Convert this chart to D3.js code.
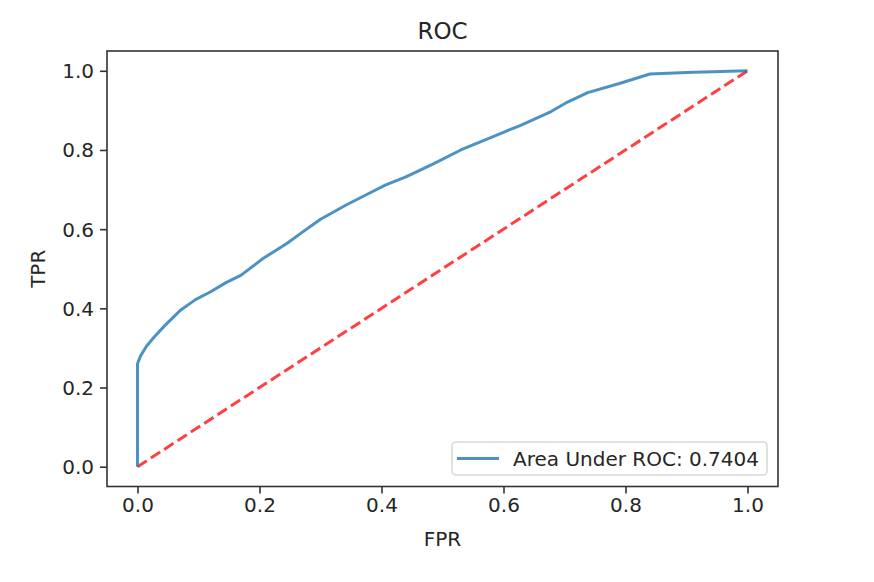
<!DOCTYPE html>
<html>
<head>
<meta charset="utf-8">
<script src="https://cdn.jsdelivr.net/npm/d3@7"></script>
<style>
  html, body { margin: 0; padding: 0; background: #fff; }
  text { font-family: "DejaVu Sans", sans-serif; fill: #262626; }
</style>
</head>
<body>
<svg id="chart" width="874" height="582"></svg>
<script>
// ROC curve points
const fpr = [0, 0, 0.005, 0.015, 0.027, 0.045, 0.071, 0.095, 0.12, 0.145, 0.170, 0.205, 0.246, 0.268, 0.30, 0.342, 0.375, 0.407, 0.44, 0.485, 0.53, 0.58, 0.629, 0.678, 0.705, 0.738, 0.79, 0.84, 0.90, 1.0];
const tpr = [0, 0.26, 0.28, 0.305, 0.327, 0.357, 0.396, 0.422, 0.442, 0.465, 0.484, 0.525, 0.565, 0.59, 0.625, 0.661, 0.687, 0.712, 0.732, 0.765, 0.80, 0.832, 0.863, 0.897, 0.921, 0.945, 0.968, 0.992, 0.996, 1.0];
const chanceX = [0, 1];
const chanceY = [0, 1];
const xTicks = [0.0, 0.2, 0.4, 0.6, 0.8, 1.0];
const yTicks = [0.0, 0.2, 0.4, 0.6, 0.8, 1.0];
const titleText = "ROC";
const xLabel = "FPR";
const yLabel = "TPR";
const legendLabel = "Area Under ROC: 0.7404";

const svg = d3.select("#chart");
const L = 107, R = 778, T = 51, B = 486.5;

const x = d3.scaleLinear().domain([-0.05, 1.05]).range([L, R]);
const y = d3.scaleLinear().domain([-0.05, 1.05]).range([B, T]);

// Axes
const xAxis = d3.axisBottom(x).tickValues(xTicks).tickFormat(d3.format(".1f")).tickSize(7).tickPadding(6);
const yAxis = d3.axisLeft(y).tickValues(yTicks).tickFormat(d3.format(".1f")).tickSize(7).tickPadding(6);

const gx = svg.append("g").attr("transform", `translate(0,${B})`).call(xAxis);
const gy = svg.append("g").attr("transform", `translate(${L},0)`).call(yAxis);
[gx, gy].forEach(g => {
  g.select(".domain").remove();
  g.selectAll(".tick line").attr("stroke", "#333").attr("stroke-width", 1.6);
  g.selectAll(".tick text").attr("font-size", 20).attr("font-family", "DejaVu Sans").attr("fill", "#262626");
});
gx.selectAll(".tick text").attr("dy", "0.75em").attr("y", 10);
gy.selectAll(".tick text").attr("x", -13).attr("dy", "0.35em");

// Lines
const line = d3.line().x(d => x(d[0])).y(d => y(d[1]));
const rocData = fpr.map((f, i) => [f, tpr[i]]);
const chanceData = chanceX.map((f, i) => [f, chanceY[i]]);

svg.append("path").datum(chanceData).attr("d", line)
  .attr("fill", "none").attr("stroke", "#ff0000").attr("stroke-opacity", 0.75)
  .attr("stroke-width", 3).attr("stroke-dasharray", "11.1,4.8");

svg.append("path").datum(rocData).attr("d", line)
  .attr("fill", "none").attr("stroke", "#1f77b4").attr("stroke-opacity", 0.8)
  .attr("stroke-width", 3).attr("stroke-linejoin", "round");

// Frame
svg.append("rect").attr("x", L).attr("y", T).attr("width", R - L).attr("height", B - T)
  .attr("fill", "none").attr("stroke", "#333").attr("stroke-width", 1.6);

// Title and labels
svg.append("text").attr("x", (L + R) / 2).attr("y", 39).attr("text-anchor", "middle")
  .attr("font-size", 23).text(titleText);
svg.append("text").attr("x", (L + R) / 2).attr("y", 546).attr("text-anchor", "middle")
  .attr("font-size", 20).text(xLabel);
svg.append("text").attr("transform", `translate(45,${(T + B) / 2}) rotate(-90)`)
  .attr("text-anchor", "middle").attr("font-size", 20).text(yLabel);

// Legend
const lg = svg.append("g");
lg.append("rect").attr("x", 452).attr("y", 442).attr("width", 315).attr("height", 33).attr("rx", 4)
  .attr("fill", "#fff").attr("fill-opacity", 0.8).attr("stroke", "#d9d9d9").attr("stroke-width", 1.6);
lg.append("line").attr("x1", 457).attr("x2", 499).attr("y1", 458.5).attr("y2", 458.5)
  .attr("stroke", "#1f77b4").attr("stroke-opacity", 0.8).attr("stroke-width", 3);
lg.append("text").attr("x", 513).attr("y", 465.5).attr("font-size", 20).text(legendLabel);
</script>
</body>
</html>
